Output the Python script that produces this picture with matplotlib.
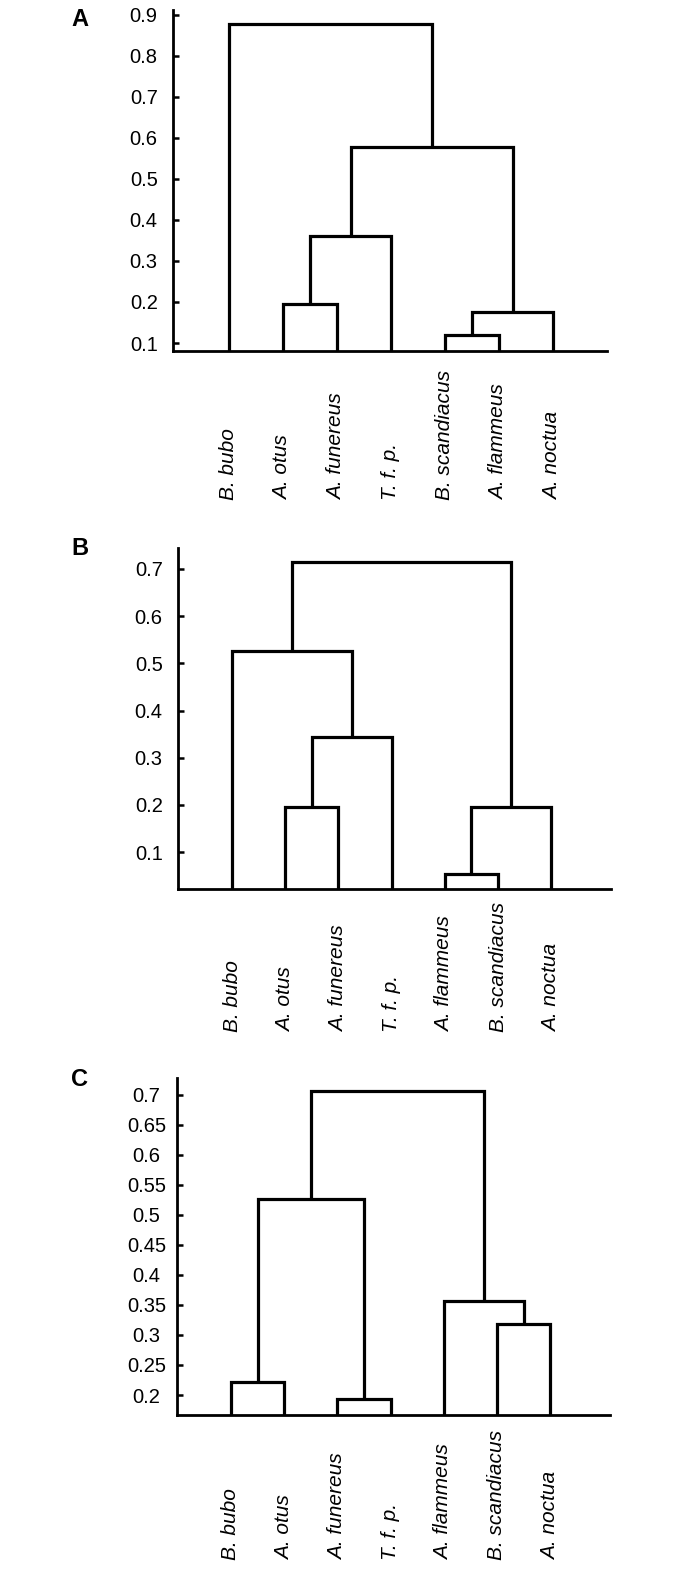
import matplotlib
matplotlib.use("Agg")
import matplotlib.pyplot as plt
from matplotlib.transforms import blended_transform_factory

plt.rcParams['font.family'] = ['Liberation Sans', 'DejaVu Sans']

# ---------------- data ----------------
labels_A = ["B. bubo", "A. otus", "A. funereus", "T. f. p.", "B. scandiacus", "A. flammeus", "A. noctua"]
labels_B = ["B. bubo", "A. otus", "A. funereus", "T. f. p.", "A. flammeus", "B. scandiacus", "A. noctua"]
labels_C = ["B. bubo", "A. otus", "A. funereus", "T. f. p.", "A. flammeus", "B. scandiacus", "A. noctua"]

# merges: (left node, right node) ; nodes 0-6 are leaves, new clusters numbered 7, 8, ...
pairs_A = [(1, 2), (4, 5), (8, 6), (7, 3), (10, 9), (0, 11)]
heights_A = [0.195, 0.120, 0.176, 0.362, 0.578, 0.878]

pairs_B = [(1, 2), (7, 3), (0, 8), (4, 5), (10, 6), (9, 11)]
heights_B = [0.196, 0.344, 0.526, 0.053, 0.195, 0.715]

pairs_C = [(0, 1), (2, 3), (7, 8), (5, 6), (4, 10), (9, 11)]
heights_C = [0.222, 0.194, 0.527, 0.318, 0.356, 0.707]

ticks_A = [0.1, 0.2, 0.3, 0.4, 0.5, 0.6, 0.7, 0.8, 0.9]
ticks_B = [0.1, 0.2, 0.3, 0.4, 0.5, 0.6, 0.7]
ticks_C = [0.2, 0.25, 0.3, 0.35, 0.4, 0.45, 0.5, 0.55, 0.6, 0.65, 0.7]

# ---------------- layout ----------------
W, H = 700, 1571
fig = plt.figure(figsize=(W / 100, H / 100), dpi=100)

panels = [
    dict(letter="A", labels=labels_A, pairs=pairs_A, heights=heights_A, ticks=ticks_A,
         box=(173, 607, 10, 351), leaf0=229, step=54.0, ylim=(0.0805, 0.912),
         label_bottom=500, letter_y=8, tick_ha="right", pad=11),
    dict(letter="B", labels=labels_B, pairs=pairs_B, heights=heights_B, ticks=ticks_B,
         box=(178, 611, 548, 889), leaf0=232, step=53.2, ylim=(0.0216, 0.7445),
         label_bottom=1032, letter_y=537, tick_ha="right", pad=11),
    dict(letter="C", labels=labels_C, pairs=pairs_C, heights=heights_C, ticks=ticks_C,
         box=(177, 610, 1078, 1415), leaf0=231, step=53.2, ylim=(0.1667, 0.728),
         label_bottom=1560, letter_y=1068, tick_ha="center", pad=22),
]

LW = 2.3
for p in panels:
    l, r, t, b = p["box"]
    ax = fig.add_axes([l / W, 1 - b / H, (r - l) / W, (b - t) / H])
    x0 = -(p["leaf0"] - l) / p["step"]
    x1 = 6 + (r - (p["leaf0"] + 6 * p["step"])) / p["step"]
    ax.set_xlim(x0, x1)
    ax.set_ylim(*p["ylim"])
    base = p["ylim"][0]

    n = len(p["labels"])
    xs = {i: float(i) for i in range(n)}
    ys = {i: base for i in range(n)}
    for k, ((a, c), h) in enumerate(zip(p["pairs"], p["heights"])):
        ax.plot([xs[a], xs[a], xs[c], xs[c]], [ys[a], h, h, ys[c]],
                color="black", lw=LW, solid_joinstyle="miter", solid_capstyle="butt",
                clip_on=False)
        node = n + k
        xs[node] = (xs[a] + xs[c]) / 2
        ys[node] = h

    ax.spines["top"].set_visible(False)
    ax.spines["right"].set_visible(False)
    for s in ("left", "bottom"):
        ax.spines[s].set_linewidth(2.0)
    ax.set_xticks([])
    ax.set_yticks(p["ticks"])
    ax.set_yticklabels(["%g" % v for v in p["ticks"]], fontsize=14.5, ha=p["tick_ha"])
    ax.tick_params(axis="y", direction="in", length=4, width=1.8, pad=p["pad"])

    trans = blended_transform_factory(ax.transData, fig.transFigure)
    for i, lab in enumerate(p["labels"]):
        ax.text(i, 1 - p["label_bottom"] / H, lab, rotation=90, ha="center", va="bottom",
                fontsize=15, style="italic", transform=trans)

    fig.text(71 / W, 1 - p["letter_y"] / H, p["letter"], ha="left", va="top",
             fontsize=17, fontweight="bold")

fig.savefig("out.png", dpi=100)
